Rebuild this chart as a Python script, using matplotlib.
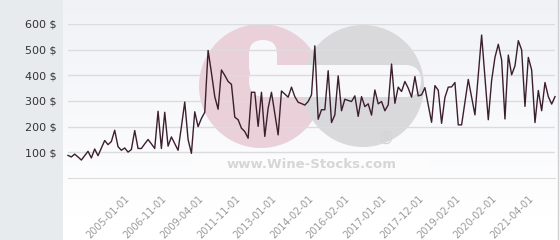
import matplotlib
matplotlib.use("Agg")
import matplotlib.pyplot as plt
import numpy as np
from matplotlib.patches import Circle, Rectangle, FancyBboxPatch

# prix par vente (axe par catégories, une étiquette toutes les 11 ventes)
prices = [
    88, 82, 93, 82, 70, 87, 104, 78, 113, 87,
    116, 146, 130, 142, 186, 122, 108, 117, 101, 111,
    185, 115, 115, 133, 150, 133, 115, 260, 115, 256,
    124, 160, 134, 108, 200, 296, 150, 96, 258, 200,
    232, 256, 497, 410, 317, 268, 421, 400, 376, 365,
    237, 227, 194, 181, 155, 334, 334, 201, 334, 162,
    272, 334, 250, 168, 339, 327, 315, 354, 317, 295,
    290, 284, 298, 324, 515, 229, 266, 266, 418, 216,
    246, 398, 262, 307, 302, 298, 320, 240, 317, 278,
    289, 245, 343, 289, 298, 262, 285, 444, 291, 354,
    337, 376, 350, 315, 395, 320, 324, 352, 284, 217,
    360, 342, 213, 314, 354, 355, 372, 207, 207, 295,
    384, 315, 246, 400, 557, 390, 227, 380, 470, 521,
    460, 230, 479, 402, 437, 535, 499, 279, 470, 421,
    216, 341, 262, 372, 317, 288, 317,
]
tick_labels = ['2005-01-01', '2006-11-01', '2009-04-01', '2011-11-01',
               '2013-01-01', '2014-02-01', '2016-02-01', '2017-01-01',
               '2017-12-01', '2019-02-01', '2020-02-01', '2021-04-01']
y_ticks = [100, 200, 300, 400, 500, 600]

W, H = 560, 240
fig = plt.figure(figsize=(W / 100, H / 100), dpi=100)

# fond : dégradé + panneau gris à gauche + filigrane
bg = fig.add_axes([0, 0, 1, 1], zorder=0)
bg.set_xlim(0, W)
bg.set_ylim(H, 0)
bg.axis('off')
grad = np.linspace(0, 1, 100).reshape(-1, 1)
top = np.array([0.945, 0.95, 0.968])
img = top + (np.array([1.0, 1.0, 1.0]) - top) * np.clip(grad * 1.1, 0, 1)[:, :, None]
bg.imshow(img, extent=[0, W, H, 0], aspect='auto')
bg.add_patch(Rectangle((0, 0), 63, H, color='#e7ebee', lw=0))
bg.plot([557.5, 557.5], [0, H], color='#d0d0d4', lw=1)

bg.add_patch(Circle((261, 86), 62, color='#ead0d8', lw=0))
bg.add_patch(Circle((363, 86), 61, color='#d9d9dc', lw=0))
bg.add_patch(FancyBboxPatch((249, 40), 28, 40, boxstyle='round,pad=0,rounding_size=14',
                            color='#f8f8fa', lw=0))
bg.add_patch(FancyBboxPatch((249, 65), 172, 32, boxstyle='round,pad=0,rounding_size=16',
                            color='#f8f8fa', lw=0))
bg.add_patch(Rectangle((198, 157), 230, 16, color='#fcfcfd', lw=0))
bg.text(312, 165, 'www.Wine-Stocks.com', ha='center', va='center',
        fontsize=9.5, fontweight='bold', color='#d6d6d8')
bg.text(386, 139, '®', ha='center', va='center', fontsize=12, color='#d4d4d6')

# graphique
ax = fig.add_axes([68 / W, (H - 178) / H, (555 - 68) / W, (178 - 24) / H], zorder=2)
ax.set_facecolor('none')
x = np.arange(len(prices))
ax.plot(x, prices, color='#3b1f2c', lw=1, clip_on=False)

ax.set_xlim(0, len(prices) - 1)
ax.set_ylim(0, 600)
ax.set_yticks(y_ticks)
ax.set_yticklabels([f'{v} $' for v in y_ticks])
ax.grid(axis='y', color='#dcdcdf', lw=1)
ax.set_axisbelow(True)
for s in ['top', 'right', 'left']:
    ax.spines[s].set_visible(False)
ax.spines['bottom'].set_color('#dcdcdf')
ax.tick_params(axis='y', length=0, pad=8, labelsize=8, labelcolor='#333333')

ax.set_xticks([17 + 11 * k for k in range(len(tick_labels))])
ax.set_xticklabels(tick_labels, rotation=45, ha='right', rotation_mode='anchor')
ax.tick_params(axis='x', length=0, pad=11, labelsize=7, labelcolor='#9a9a9a')

fig.savefig('out.png', dpi=100)
